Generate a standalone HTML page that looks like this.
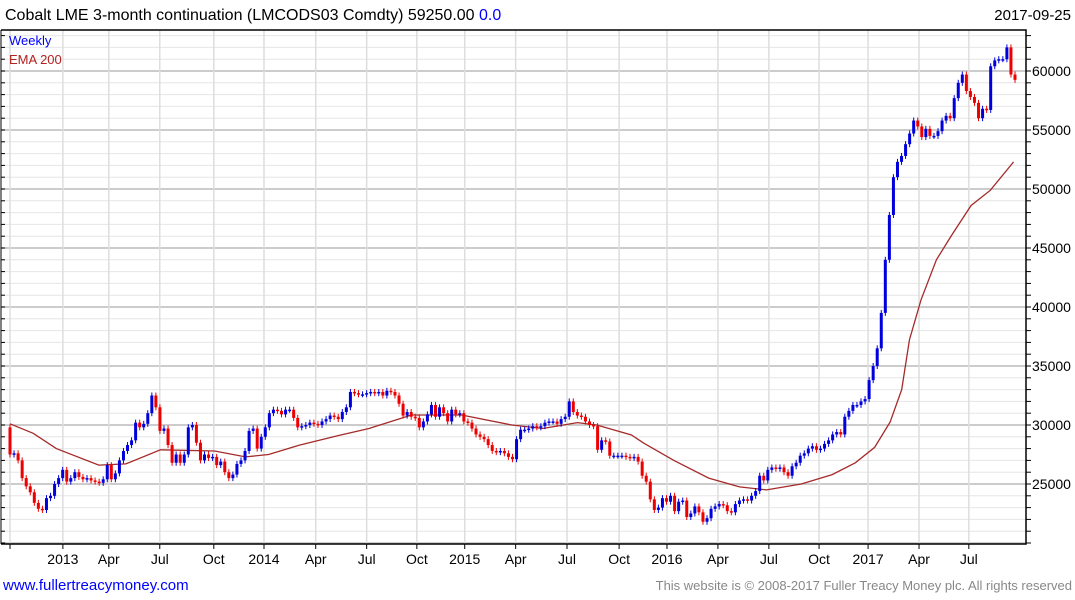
<!DOCTYPE html>
<html><head><meta charset="utf-8">
<style>
body{margin:0;background:#fff;font-family:"Liberation Sans","DejaVu Sans",sans-serif;}
#wrap{position:relative;width:1075px;height:600px;overflow:hidden;}
</style></head>
<body>
<div id="wrap">
<svg id="chart" width="1075" height="600" xmlns="http://www.w3.org/2000/svg">
  <g id="grid"></g>
  <g id="ema"></g>
  <g id="candles"></g>
  <g id="axes"></g>
  <text x="5" y="20" font-size="16" fill="#000">Cobalt LME 3-month continuation (LMCODS03 Comdty) 59250.00 <tspan fill="#0000ff">0.0</tspan></text>
  <text x="1071" y="20" font-size="15" fill="#000" text-anchor="end">2017-09-25</text>
  <text x="9" y="45" font-size="13" fill="#0000ff">Weekly</text>
  <text x="9" y="64" font-size="13" fill="#b22222">EMA 200</text>
  <text x="3" y="590" font-size="15" fill="#0000ff">www.fullertreacymoney.com</text>
  <text x="1072" y="590" font-size="13" fill="#888" text-anchor="end">This website is © 2008-2017 Fuller Treacy Money plc. All rights reserved</text>
</svg>
</div>
<script>
const firstOpen = 29800;
const closes = [
27500,27600,27000,25500,24800,24300,23400,22900,22800,23800,24000,25000,25500,
26200,25200,25500,26000,25600,25400,25500,25300,25200,25100,25400,26600,25400,
25900,27000,27800,28300,28700,30200,29800,30100,31000,32500,31500,29500,29700,
28300,26800,27500,26800,27500,29800,30000,28500,27000,27500,27200,27300,26600,26900,
26000,25500,25800,26700,27000,27800,29500,29700,28000,29000,29800,31000,31300,
31200,30900,31300,31300,30600,29800,29900,30000,30200,30100,30000,30300,30500,
30800,30700,30500,31100,31500,32800,32700,32600,32600,32700,32800,32700,32800,
32500,32900,32800,32500,31800,30800,31100,30700,30600,29800,30300,30900,31700,
30700,31500,31000,30300,31300,30900,31000,30300,30200,29700,29200,29000,28800,
28300,27800,27700,27800,27600,27300,27100,28800,29600,29600,29700,29900,29800,
29900,30200,30300,30300,30100,30500,30700,32000,31100,30800,30700,30300,30000,
29900,27900,28700,28600,27400,27400,27400,27400,27300,27200,27300,26900,25700,
25200,23700,22800,23000,23800,23500,24000,22700,23500,23600,22200,22500,23100,
22600,21800,22100,22900,23100,23300,23200,22700,22600,23300,23600,23700,23600,
24000,24400,25700,25300,26200,26400,26300,26400,26000,25700,
26500,26800,27400,27600,28000,28200,27900,28000,28400,28700,
29200,29400,29200,30700,31200,31700,31700,32000,32200,33800,
35000,36500,39500,44000,47800,51000,52300,52800,53800,54700,
55800,55300,54400,55100,54500,54500,54900,55800,56200,56000,
57700,59000,59700,58300,57800,57300,56000,56800,56700,60400,
60900,61000,61000,62000,59700,59250];
const emaWeeks = [0,6,12,23,30,39,53,61,67,75,85,93,104,117,130,138,147,152,161,164,172,181,189,196,205,213,219,224,228,231,233,236,240,244,249,254,260];
const emaValues = [30100,29300,28000,26600,26700,27900,27800,27300,27500,28300,29100,29700,30850,30850,30000,29700,30200,30000,29150,28500,27000,25500,24750,24500,25000,25800,26800,28100,30250,33000,37200,40600,44000,46100,48600,49900,52300];
const yTicks = [25000,30000,35000,40000,45000,50000,55000,60000];
const xTickLabels = ["","2013","Apr","Jul","Oct","2014","Apr","Jul","Oct","2015","Apr","Jul","Oct","2016","Apr","Jul","Oct","2017","Apr","Jul"];
const xTickWeeks = [0,13.7,25.6,38.8,52.8,65.8,79.2,92.4,105.4,117.8,131,144.3,157.8,170.2,183.4,196.6,209.6,222.3,235.5,248.4];

const NS="http://www.w3.org/2000/svg";
const L=1, R=1026, T=30, B=544;
const x0=10, weekPx=3.86;
const candleStep=(1015-10)/(closes.length-1);
function xs(w){return x0+w*weekPx;}
function xc(i){return x0+i*candleStep;}
function ys(v){return 484-(v-25000)*59/5000;}
function mk(tag,attrs,parent){const e=document.createElementNS(NS,tag);for(const k in attrs)e.setAttribute(k,attrs[k]);parent.appendChild(e);return e;}

const grid=document.getElementById('grid');
for(let v=20000; v<=63000; v+=1000){
  const y=ys(v); if(y<T||y>B) continue;
  const major = v%5000===0;
  const ln=mk('line',{x1:L,x2:R,y1:y,y2:y,stroke:major?'#bbbbbb':'#e6e6e6','stroke-width':major?1.5:1},grid);
  
  
}
xTickWeeks.forEach((w,i)=>{
  const x=xs(w);
  const ln=mk('line',{x1:x,x2:x,y1:T,y2:B,stroke:'#dddddd','stroke-width':1.5},grid);
  
  
});

const emaG=document.getElementById('ema');
const pts=emaWeeks.map((w,i)=>xs(w).toFixed(1)+','+ys(emaValues[i]).toFixed(1)).join(' ');
const pl=mk('polyline',{points:pts,fill:'none',stroke:'#a52a2a','stroke-width':1.3},emaG);



const cg=document.getElementById('candles');
let prev=firstOpen;
closes.forEach((c,i)=>{
  const o=prev; prev=c;
  const x=xc(i);
  const up=c>=o;
  const col=up?'#0000dd':'#ee0000';
  const top=ys(Math.max(o,c)), bot=ys(Math.min(o,c));
  const g=mk('g',{},cg);
  
  
  mk('line',{x1:x,x2:x,y1:top-3,y2:bot+3,stroke:col,'stroke-width':1},g);
  mk('rect',{x:x-1.5,y:top,width:3,height:Math.max(1.5,bot-top),fill:col},g);
});

const ax=document.getElementById('axes');
const frame=mk('path',{d:`M${L},${T} H${R} V${B} H${L}`,fill:'none',stroke:'#000','stroke-width':1.5},ax);


mk('line',{x1:L,x2:L,y1:T,y2:B,stroke:'#000','stroke-width':1},ax);
for(let v=20000; v<=63000; v+=1000){
  const y=ys(v); if(y<T||y>B) continue;
  mk('line',{x1:R,x2:R+5,y1:y,y2:y,stroke:'#000','stroke-width':1},ax);
  mk('line',{x1:L,x2:L+4,y1:y,y2:y,stroke:'#000','stroke-width':1},ax);
}
yTicks.forEach(v=>{
  const t=mk('text',{x:1032,y:ys(v)+5,'font-size':14,fill:'#000'},ax);
  t.textContent=String(v);
  
  
});
xTickWeeks.forEach((w,i)=>{
  const x=xs(w);
  mk('line',{x1:x,x2:x,y1:B,y2:B+5,stroke:'#000','stroke-width':1},ax);
  if(xTickLabels[i]){
    const t=mk('text',{x:x,y:564,'font-size':14,fill:'#000','text-anchor':'middle'},ax);
    t.textContent=xTickLabels[i];
    
    
  }
});
</script>
</body></html>
